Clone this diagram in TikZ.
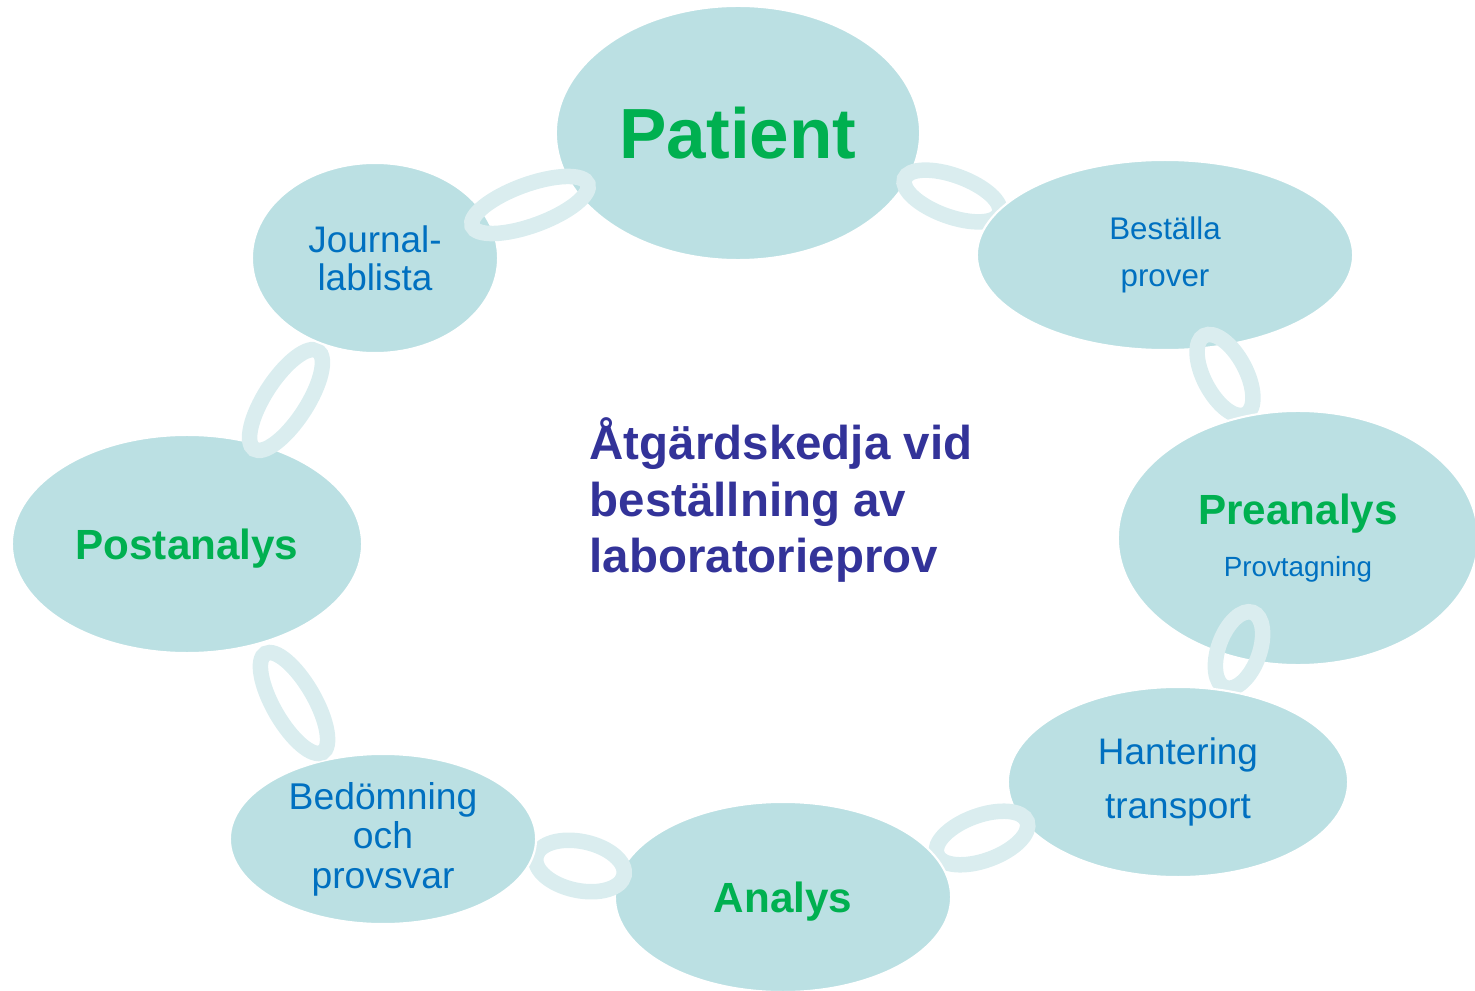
\documentclass[tikz,border=0pt]{standalone}
\usepackage{fontspec}
\setmainfont{Liberation Sans}
\setsansfont{Liberation Sans}
\usepackage{tikz}
\usetikzlibrary{shapes.geometric,positioning}
\definecolor{stagefill}{HTML}{BBE0E3}
\definecolor{linkring}{HTML}{DAEDEF}
\definecolor{stagegreen}{HTML}{00B050}
\definecolor{stageblue}{HTML}{0070C0}
\definecolor{titleblue}{HTML}{333399}

\begin{document}
\begin{tikzpicture}[
    x=0.01cm,
    y=-0.01cm,
    font=\sffamily,
    stage/.style={
		ellipse,
		fill=stagefill,
		draw=white,
		line width=0.6pt,
		inner sep=0pt,
		text centered,
		align=center,
		text=stageblue
	},
	link/.style={
		ellipse,
		draw=linkring,
		line width=0.155cm,
		inner sep=0pt
	},
	phase/.style={
		text=stagegreen,
		text depth=0pt,
		font=\sffamily\bfseries\fontsize{12pt}{14pt}\selectfont
	},
	title/.style={
		align=left,
		inner sep=0pt,
		text=titleblue,
		font=\sffamily\bfseries\fontsize{13.5pt}{16.2pt}\selectfont
	}
  ]

\useasboundingbox (0,0) rectangle (1475,991);

% // The chain, drawn link by link
 \node [stage, minimum width=3.64cm, minimum height=2.54cm, text=stagegreen,
 font=\sffamily\bfseries\fontsize{20.2pt}{24pt}\selectfont] (patient) at (738,133) {Patient};
 \node [link, rotate=-20, minimum width=1.01cm, minimum height=0.41cm] (link2) at (952,196) {};

 \node [stage, minimum width=3.76cm, minimum height=1.90cm,
 font=\sffamily\fontsize{8.9pt}{13.4pt}\selectfont] (bestalla) at (1165,255) {Beställa\\prover};
 \node [link, rotate=28, minimum width=0.42cm, minimum height=0.89cm] (link3) at (1225,375) {};

 \node [stage, minimum width=3.60cm, minimum height=2.54cm,
 font=\sffamily\fontsize{12pt}{13.7pt}\selectfont] (preanalys) at (1298,538)
 {\textcolor{stagegreen}{\bfseries Preanalys}\\[1pt]{\fontsize{7.9pt}{9pt}\selectfont Provtagning}};
 \node [link, rotate=-20, minimum width=0.41cm, minimum height=0.80cm] (link4) at (1239,650) {};

 \node [stage, minimum width=3.40cm, minimum height=1.90cm,
 font=\sffamily\fontsize{10.5pt}{15.4pt}\selectfont] (hantering) at (1178,782) {Hantering\\transport};
 \node [link, rotate=20, minimum width=0.96cm, minimum height=0.45cm] (link5) at (982,838) {};

 \node [stage, phase, minimum width=3.36cm, minimum height=1.90cm] (analys) at (783,897) {Analys};
 \node [link, rotate=-12, minimum width=0.90cm, minimum height=0.49cm] (link6) at (580,866) {};

 \node [stage, minimum width=3.06cm, minimum height=1.70cm,
 font=\sffamily\fontsize{10.6pt}{11.2pt}\selectfont] (bedomning) at (383,839) {Bedömning\\och\\provsvar};
 \node [link, rotate=30, minimum width=0.41cm, minimum height=1.14cm] (link7) at (294,703) {};

 \node [stage, phase, minimum width=3.50cm, minimum height=2.18cm] (postanalys) at (187,544) {Postanalys};
 \node [link, rotate=-33, minimum width=0.42cm, minimum height=1.17cm] (link8) at (286,400) {};

 \node [stage, minimum width=2.46cm, minimum height=1.90cm,
 font=\sffamily\fontsize{10.5pt}{10.8pt}\selectfont] (journal) at (375,258) {Journal-\\lablista};
 \node [link, rotate=20, minimum width=1.23cm, minimum height=0.41cm] (link1) at (530,205) {};

% // Title in the middle
 \node [title, anchor=west] (kedja) at (589,500)
 {Åtgärdskedja vid\\beställning av\\laboratorieprov};

\end{tikzpicture}
\end{document}
